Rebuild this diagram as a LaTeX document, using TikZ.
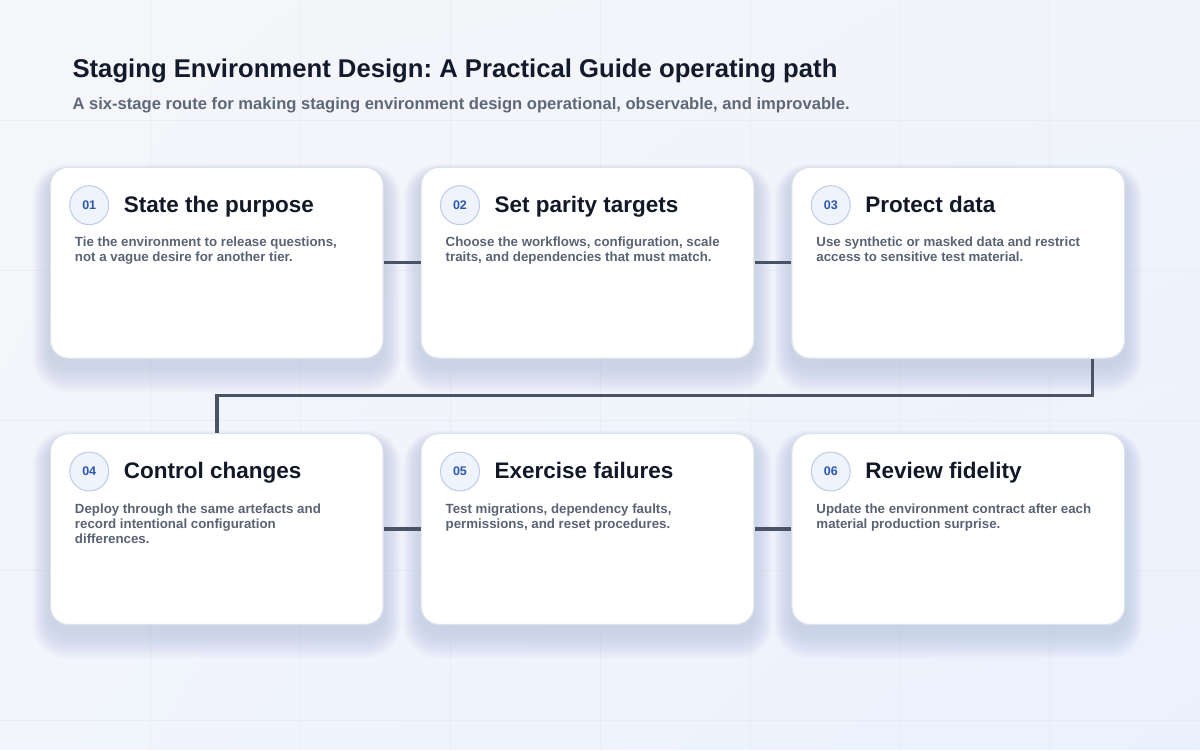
\documentclass[tikz,border=0pt]{standalone}
\usepackage{fontspec}
\setmainfont{Liberation Sans}
\usetikzlibrary{shadings}
\usetikzlibrary{positioning}
\usetikzlibrary{calc}

\definecolor{bgtl}{HTML}{F5F6F9}
\definecolor{bgtr}{HTML}{F1F4FA}
\definecolor{bgbl}{HTML}{F2F5FC}
\definecolor{bgbr}{HTML}{EAF1FD}
\definecolor{gridcol}{HTML}{E4E8EF}
\definecolor{shadowcol}{HTML}{7D8BAB}
\definecolor{titlecol}{HTML}{131A2B}
\definecolor{subcol}{HTML}{5E6879}
\definecolor{cardline}{HTML}{DCE2EB}
\definecolor{headcol}{HTML}{111827}
\definecolor{bodycol}{HTML}{5A6374}
\definecolor{badgefill}{HTML}{EEF3FC}
\definecolor{badgeline}{HTML}{BCCBE7}
\definecolor{badgetext}{HTML}{2D58AE}
\definecolor{linkcol}{HTML}{4A5466}

\pgfdeclarelayer{backdrop}
\pgfdeclarelayer{shadow}
\pgfsetlayers{backdrop,shadow,main}

\tikzset{
    card/.style={
        draw=cardline,
        line width=1.2pt,
        fill=white,
        rounded corners=18pt,
        minimum width=333pt,
        minimum height=191pt,
        inner sep=0pt},
    badge/.style={
        circle,
        draw=badgeline,
        fill=badgefill,
        line width=1pt,
        minimum size=39pt,
        inner sep=0pt,
        text=badgetext,
        font=\fontsize{12.5}{12.5}\selectfont\bfseries},
    stephead/.style={
        anchor=base west,
        inner sep=0pt,
        text=headcol,
        font=\fontsize{22.5}{22.5}\selectfont\bfseries},
    stepbody/.style={
        anchor=north west,
        inner sep=0pt,
        align=left,
        text=bodycol,
        font=\fontsize{13.3}{15}\selectfont\bfseries},
    gridline/.style={gridcol, line width=0.8pt, opacity=0.6},
    link/.style={draw=linkcol, line width=3.5pt}
}

\begin{document}
\frenchspacing
\begin{tikzpicture}[x=1pt,y=-1pt]

\begin{pgfonlayer}{backdrop}
\shade[upper left=bgtl, upper right=bgtr, lower left=bgbl, lower right=bgbr]
    (0,0) rectangle (1200,750);
\foreach \gx in {150,300,...,1050}
    \draw[gridline] (\gx,0) -- (\gx,750);
\foreach \gy in {120,270,...,720}
    \draw[gridline] (0,\gy) -- (1200,\gy);
\end{pgfonlayer}
\useasboundingbox (0,0) rectangle (1200,750);

\node[anchor=base west, inner sep=0pt, text=titlecol,
      font=\fontsize{25.7}{26}\selectfont\bfseries] (title) at (72,77)
    {Staging Environment Design: A Practical Guide operating path};
\node[anchor=base west, inner sep=0pt, text=subcol,
      font=\fontsize{16.6}{17}\selectfont\bfseries] (subtitle) at (72,109)
    {A six-stage route for making staging environment design operational, observable, and improvable.};

\begin{scope}[every node/.style={card}]
    \node (purpose) at (216.5,262.5) {};
    \node (parity) at (587.5,262.5) {};
    \node (protect) at (958.5,262.5) {};
    \node (control) at (216.5,529) {};
    \node (failures) at (587.5,529) {};
    \node (fidelity) at (958.5,529) {};
\end{scope}

% soft shadows under the cards
\begin{pgfonlayer}{shadow}
\foreach \c in {purpose,parity,protect,control,failures,fidelity}
    \foreach \s in {1,...,22} {
        \pgfmathsetmacro{\rr}{18+0.8*\s}
        \fill[shadowcol, opacity=0.013, rounded corners=\rr pt]
            ([shift={(-0.8*\s,9-0.55*\s)}]\c.north west) rectangle
            ([shift={(0.8*\s,8+1.2*\s)}]\c.south east);
    }
\end{pgfonlayer}

\begin{scope}[every node/.style={badge}]
    \node (n01) at ([shift={(39.5,38.5)}]purpose.north west) {01};
    \node (n02) at ([shift={(39.5,38.5)}]parity.north west) {02};
    \node (n03) at ([shift={(39.5,38.5)}]protect.north west) {03};
    \node (n04) at ([shift={(39.5,38.5)}]control.north west) {04};
    \node (n05) at ([shift={(39.5,38.5)}]failures.north west) {05};
    \node (n06) at ([shift={(39.5,38.5)}]fidelity.north west) {06};
\end{scope}

\begin{scope}[every node/.style={stephead}]
    \node (h01) at ([shift={(74,46)}]purpose.north west) {State the purpose};
    \node (h02) at ([shift={(74,46)}]parity.north west) {Set parity targets};
    \node (h03) at ([shift={(74,46)}]protect.north west) {Protect data};
    \node (h04) at ([shift={(74,46)}]control.north west) {Control changes};
    \node (h05) at ([shift={(74,46)}]failures.north west) {Exercise failures};
    \node (h06) at ([shift={(74,46)}]fidelity.north west) {Review fidelity};
\end{scope}

\begin{scope}[every node/.style={stepbody}]
    \node (b01) at ([shift={(25,70.5)}]purpose.north west)
        {Tie the environment to release questions,\\not a vague desire for another tier.};
    \node (b02) at ([shift={(25,70.5)}]parity.north west)
        {Choose the workflows, configuration, scale\\traits, and dependencies that must match.};
    \node (b03) at ([shift={(25,70.5)}]protect.north west)
        {Use synthetic or masked data and restrict\\access to sensitive test material.};
    \node (b04) at ([shift={(25,70.5)}]control.north west)
        {Deploy through the same artefacts and\\record intentional configuration\\differences.};
    \node (b05) at ([shift={(25,70.5)}]failures.north west)
        {Test migrations, dependency faults,\\permissions, and reset procedures.};
    \node (b06) at ([shift={(25,70.5)}]fidelity.north west)
        {Update the environment contract after each\\material production surprise.};
\end{scope}

\begin{scope}[every path/.style={link}]
    \path (purpose) edge (parity);
    \path (parity) edge (protect);
    \path (control) edge (failures);
    \path (failures) edge (fidelity);
    \draw ([xshift=-33pt]protect.south east) -- ++(0,37) -| (control.north);
\end{scope}
\end{tikzpicture}
\end{document}
